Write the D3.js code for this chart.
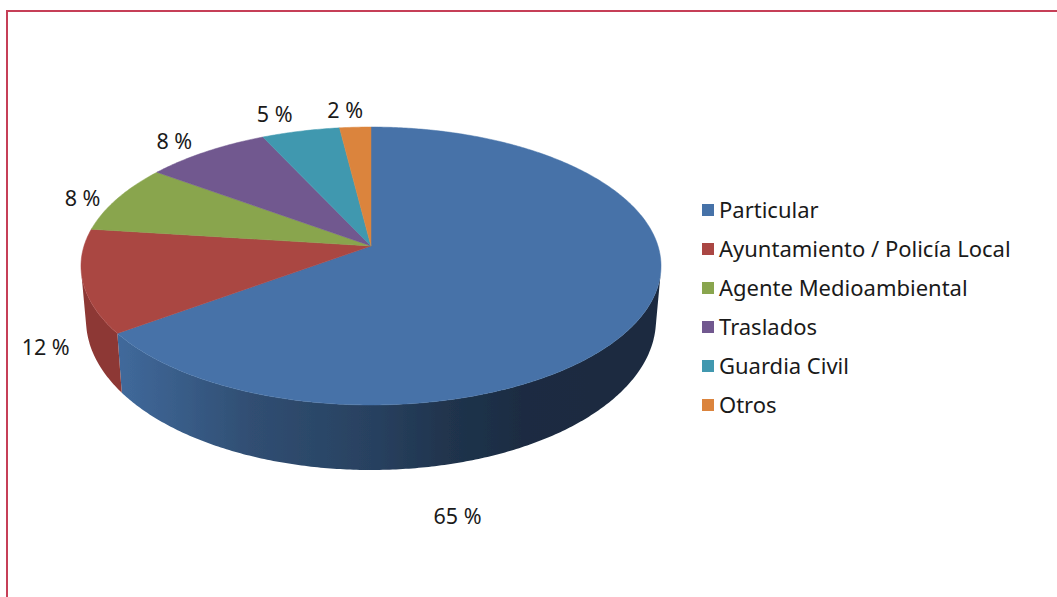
<!DOCTYPE html>
<html>
<head>
<meta charset="utf-8">
<script src="https://d3js.org/d3.v7.min.js"></script>
<style>
    html, body { margin: 0; background: #fff; }
    svg { display: block; }
    .frame { fill: none; stroke: #c63f57; stroke-width: 2px; }
    .label { font-family: "Noto Sans", sans-serif; font-size: 21.5px; fill: #1a1a1a; text-anchor: middle; dominant-baseline: central; }
    .legend-text { font-family: "Noto Sans", sans-serif; font-size: 22px; fill: #1a1a1a; dominant-baseline: central; }
</style>
</head>
<body>
<svg id="chart" width="1057" height="597"></svg>
<script>
    const categories = ["Particular", "Ayuntamiento / Policía Local", "Agente Medioambiental", "Traslados", "Guardia Civil", "Otros"];
    const values = [65, 12, 8, 8, 5, 2];
    const colors = ["#4672a8", "#aa4643", "#89a54e", "#71588f", "#4198af", "#db843d"];

    // label placement: shift from the rim point at the slice's middle angle
    const labelShift = [[-187, 203], [-37, 65], [-35, -1], [-32, -11], [-26, -18], [-10, -18]];
    // shading of the side wall, left to right: offset, brightness
    const sideStops = [[0.06, 0.92], [0.29, 0.68], [0.5, 0.57], [0.63, 0.46], [0.76, 0.39], [1, 0.38]];

    const svg = d3.select("#chart");
    const width = +svg.attr("width");
    const height = +svg.attr("height");

    svg.append("rect").attr("class", "frame")
        .attr("x", 7).attr("y", 11).attr("width", width + 20).attr("height", height + 20);

    // the pie lies in perspective, the near half looks bigger than the far one
    const cx = 371, k = 0.1439;
    const topFace = { a: 287, b: 136.1, y0: 246 };
    const botFace = { a: 282, b: 146.9, y0: 298.4 };

    function project(angle, face) {
        const u = Math.sin(angle), v = -Math.cos(angle), w = 1 - k * v;
        return [cx + face.a * u / w, face.y0 + face.b * v / w];
    }

    function arcPoints(start, end, face) {
        const n = Math.max(2, Math.ceil((end - start) / 0.01));
        return d3.range(n + 1).map(i => project(start + (end - start) * i / n, face));
    }

    // wall of one slice as small quads; only those facing the viewer, so that
    // the outline runs straight from the top rim to the bottom rim
    function wallPath(d) {
        const t = arcPoints(d.startAngle, d.endAngle, topFace);
        const b = arcPoints(d.startAngle, d.endAngle, botFace);
        return d3.range(t.length - 1)
            .map(i => [t[i], t[i + 1], b[i + 1], b[i]])
            .filter(q => d3.polygonArea(q) > 0)
            .map(q => line(q) + "Z")
            .join("");
    }

    const pie = d3.pie().sort(null).value(d => d);
    const slices = pie(values);
    const line = d3.line();

    const defs = svg.append("defs");
    defs.append("filter").attr("id", "soft")
        .append("feGaussianBlur").attr("stdDeviation", 0.5);

    slices.forEach((s, i) => {
        const grad = defs.append("linearGradient").attr("id", "side" + i)
            .attr("gradientUnits", "userSpaceOnUse")
            .attr("x1", 85).attr("x2", 660).attr("y1", 0).attr("y2", 0);
        const c = d3.rgb(colors[i]);
        sideStops.forEach(st => {
            grad.append("stop").attr("offset", st[0])
                .attr("stop-color", d3.rgb(c.r * st[1], c.g * st[1], c.b * st[1]));
        });
    });

    // the red wall is flat in the reference
    const redSide = defs.select("#side1");
    redSide.selectAll("stop").remove();
    redSide.append("stop").attr("offset", 0).attr("stop-color", "#8d3936");
    redSide.append("stop").attr("offset", 1).attr("stop-color", "#8d3936");

    const pieG = svg.append("g").attr("filter", "url(#soft)");

    // side wall
    pieG.append("g").selectAll("path").data(slices).join("path")
        .attr("d", wallPath)
        .attr("fill", (d, i) => "url(#side" + i + ")");

    // top face
    pieG.append("g").selectAll("path").data(slices).join("path")
        .attr("d", d => line([[cx, topFace.y0]].concat(arcPoints(d.startAngle, d.endAngle, topFace))) + "Z")
        .attr("fill", (d, i) => colors[i])
        .attr("stroke", (d, i) => colors[i])
        .attr("stroke-width", 0.5);

    // value labels
    svg.append("g").selectAll("text").data(slices).join("text")
        .attr("class", "label")
        .attr("x", (d, i) => project((d.startAngle + d.endAngle) / 2, topFace)[0] + labelShift[i][0])
        .attr("y", (d, i) => project((d.startAngle + d.endAngle) / 2, topFace)[1] + labelShift[i][1])
        .text(d => d.value + " %");

    // legend
    const legendY = d3.scalePoint().domain(categories).range([210, 405]);
    const legend = svg.append("g").selectAll("g").data(categories).join("g")
        .attr("transform", d => "translate(702," + legendY(d) + ")");
    legend.append("rect")
        .attr("y", -6).attr("width", 12).attr("height", 12)
        .attr("fill", (d, i) => colors[i]);
    legend.append("text")
        .attr("class", "legend-text")
        .attr("x", 17)
        .attr("y", -1)
        .text(d => d);
</script>
</body>
</html>
